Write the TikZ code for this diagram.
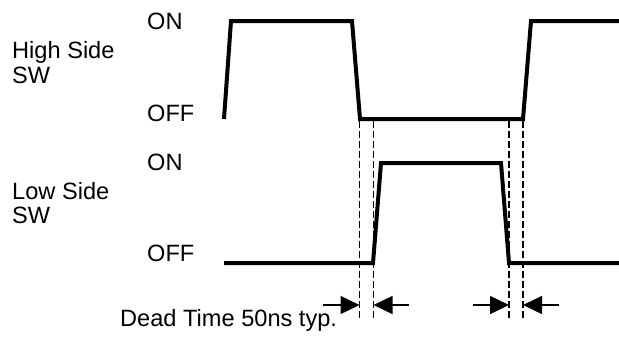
\documentclass[tikz,border=0pt]{standalone}
\usepackage{fontspec}
\setmainfont{Liberation Sans}
\usetikzlibrary{arrows.meta}

\begin{document}
\begin{tikzpicture}[x=1bp, y=-1bp,
  wave/.style={line width=4bp},
  guide/.style={line width=1.5bp, dash pattern=on 7bp off 3bp},
  gap/.style={line width=1.4bp, -{Triangle[length=19bp,width=18bp]}},
  lbl/.style={anchor=base west, inner sep=0pt, font=\fontsize{23.6bp}{25bp}\selectfont}]
\useasboundingbox (0,0) rectangle (619,338);
% labels
\node[lbl] (hsw1) at (12,58.5) {High Side};
\node[lbl] (hsw2) at (12,83.3) {SW};
\node[lbl] (lsw1) at (12,199.3) {Low Side};
\node[lbl] (lsw2) at (12,223.5) {SW};
\node[lbl] (hon) at (147,29) {ON};
\node[lbl] (hoff) at (147,121.5) {OFF};
\node[lbl] (lon) at (147,170) {ON};
\node[lbl] (loff) at (147,261.5) {OFF};
\node[lbl] (dead) at (120,326.5) {Dead Time 50ns typ.};
% waveforms
\draw[wave] (224,119) -- (231,21) -- (352,21) -- (360,119) -- (523,119) -- (531,21) -- (619,21);
\draw[wave] (224,263) -- (373,263) -- (381,163) -- (501,163) -- (509,263) -- (619,263);
% dead time guides
\foreach \x [count=\i] in {359.5,373.5,509,523} {
  \coordinate (g\i t) at (\x,121);
  \coordinate (g\i b) at (\x,318);
  \draw[guide] (g\i t) -- (g\i b);
}
\coordinate (a1) at (323,305);
\coordinate (a2) at (409,305);
\coordinate (a3) at (473,305);
\coordinate (a4) at (559,305);
\draw[gap] (a1) -- (g1b |- a1);
\draw[gap] (a2) -- (g2b |- a2);
\draw[gap] (a3) -- (g3b |- a3);
\draw[gap] (a4) -- (g4b |- a4);
\end{tikzpicture}
\end{document}
